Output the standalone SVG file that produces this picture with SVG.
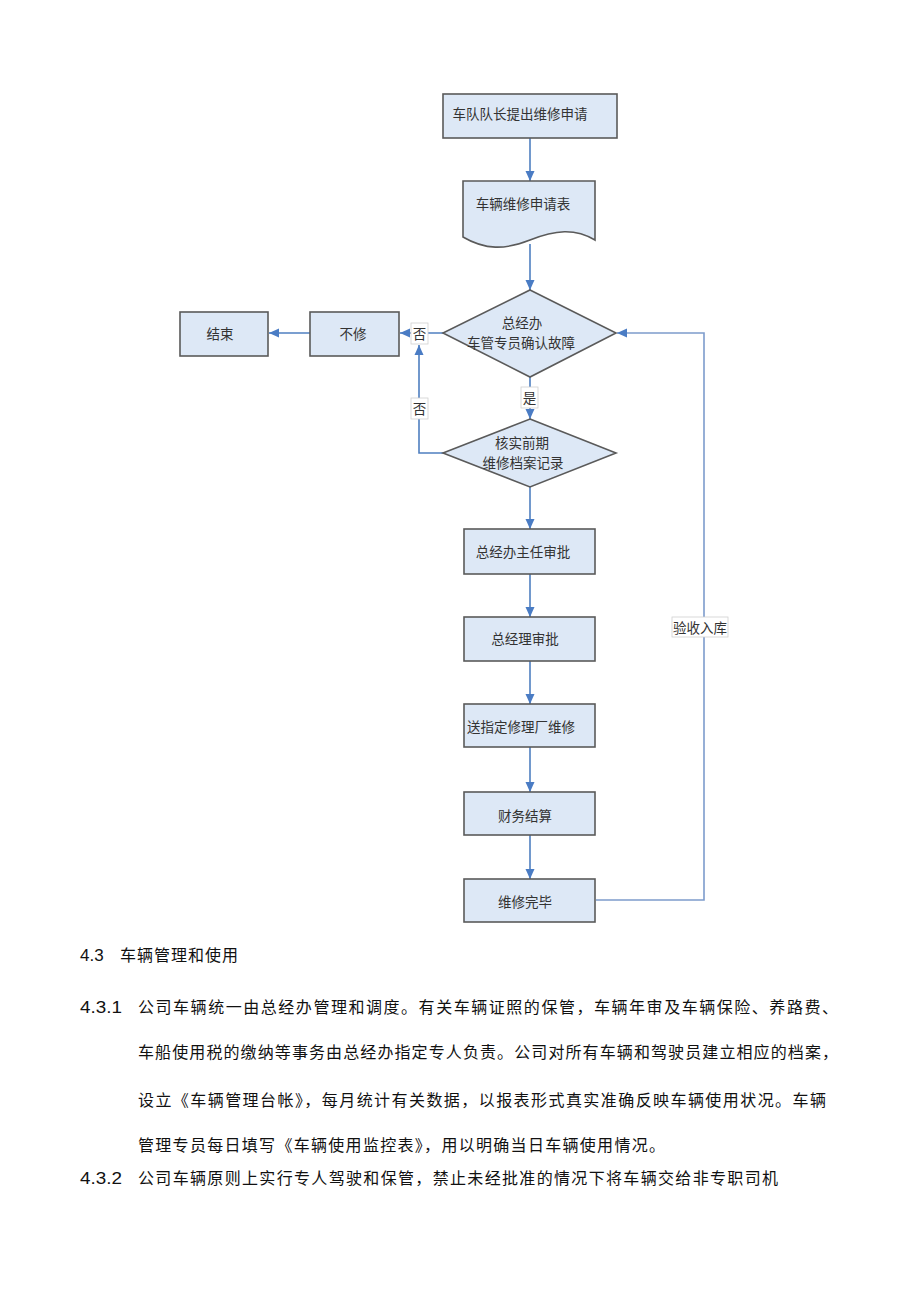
<svg xmlns="http://www.w3.org/2000/svg" width="920" height="1303" viewBox="0 0 920 1303">
<defs>
<marker id="ah" markerUnits="userSpaceOnUse" markerWidth="10" markerHeight="10" viewBox="0 0 10 10" refX="10" refY="5" orient="auto">
<path d="M0,0.5 L10,5 L0,9.5 Z" fill="#4a7cc4"/>
</marker>
</defs>
<style>
.box{fill:#dde8f6;stroke:#5a5a5a;stroke-width:1.6}
.t{font-family:"Noto Sans CJK SC","Liberation Serif",serif;font-size:13.5px;fill:#333;text-anchor:middle;dominant-baseline:central}
.c{fill:none;stroke:#4f7fc0;stroke-width:1.6}
.r{fill:none;stroke:#7d9ccc;stroke-width:1.6}
.lb{fill:#fff;stroke:#d0d0d0;stroke-width:0.8}
.lt{font-family:"Noto Sans CJK SC","Liberation Serif",serif;font-size:13.5px;fill:#333;text-anchor:middle;dominant-baseline:central}
.p{font-family:"Noto Sans CJK SC","Liberation Sans",sans-serif;font-size:16px;fill:#111}
.n{font-family:"Liberation Sans",Arial,sans-serif;font-size:17px;fill:#111}
</style>
<rect width="920" height="1303" fill="#fff"/>
<g id="connectors">
<line class="c" x1="530" y1="138" x2="530" y2="181" marker-end="url(#ah)"/>
<line class="c" x1="530" y1="244" x2="530" y2="290" marker-end="url(#ah)"/>
<line class="c" x1="443" y1="333" x2="400" y2="333" marker-end="url(#ah)"/>
<line class="c" x1="310" y1="333" x2="269" y2="333" marker-end="url(#ah)"/>
<line class="c" x1="530" y1="377" x2="530" y2="419" marker-end="url(#ah)"/>
<polyline class="c" points="443,453 419,453 419,345" marker-end="url(#ah)"/>
<line class="c" x1="530" y1="487" x2="530" y2="529" marker-end="url(#ah)"/>
<line class="c" x1="530" y1="574" x2="530" y2="617" marker-end="url(#ah)"/>
<line class="c" x1="530" y1="661" x2="530" y2="704" marker-end="url(#ah)"/>
<line class="c" x1="530" y1="747" x2="530" y2="792" marker-end="url(#ah)"/>
<line class="c" x1="530" y1="835" x2="530" y2="879" marker-end="url(#ah)"/>
<polyline class="r" points="596,900 704,900 704,333 617,333" marker-end="url(#ah)"/>
<rect class="lb" x="411" y="323" width="17" height="21"/>
<text class="lt" x="419.5" y="333">否</text>
<rect class="lb" x="411" y="398" width="17" height="21"/>
<text class="lt" x="419.5" y="408">否</text>
<rect class="lb" x="521" y="387" width="17" height="21"/>
<text class="lt" x="529.5" y="397">是</text>
<rect class="lb" x="672" y="617" width="56" height="20"/>
<text class="lt" x="700" y="627">验收入库</text>
</g>
<g id="n1">
<rect class="box" x="443" y="94" width="174" height="44"/>
<text class="t" x="520" y="113">车队队长提出维修申请</text>
</g>
<g id="n2">
<path class="box" d="M463,181 L595,181 L595,240 C575,228 555,230 530,240 C505,250 485,250 463,237 Z"/>
<text class="t" x="523" y="203">车辆维修申请表</text>
</g>
<g id="n3">
<polygon class="box" points="530,290 616,333 530,377 443,333"/>
<text class="t" x="522" y="322">总经办</text>
<text class="t" x="521" y="342">车管专员确认故障</text>
</g>
<g id="n4">
<rect class="box" x="310" y="312" width="89" height="44"/>
<text class="t" x="353" y="333">不修</text>
</g>
<g id="n5">
<rect class="box" x="180" y="312" width="88" height="44"/>
<text class="t" x="220" y="333">结束</text>
</g>
<g id="n6">
<polygon class="box" points="530,419 616,453 530,487 443,453"/>
<text class="t" x="522" y="442">核实前期</text>
<text class="t" x="523" y="462">维修档案记录</text>
</g>
<g id="n7">
<rect class="box" x="464" y="529" width="131" height="45"/>
<text class="t" x="523" y="551">总经办主任审批</text>
</g>
<g id="n8">
<rect class="box" x="464" y="617" width="131" height="44"/>
<text class="t" x="525" y="638">总经理审批</text>
</g>
<g id="n9">
<rect class="box" x="464" y="704" width="131" height="43"/>
<text class="t" x="521" y="726">送指定修理厂维修</text>
</g>
<g id="n10">
<rect class="box" x="464" y="792" width="131" height="43"/>
<text class="t" x="525" y="815">财务结算</text>
</g>
<g id="n11">
<rect class="box" x="464" y="879" width="131" height="43"/>
<text class="t" x="525" y="901">维修完毕</text>
</g>
<g id="body">
<text class="n" x="80" y="961">4.3</text>
<text class="p" x="120" y="961" textLength="118" lengthAdjust="spacing">车辆管理和使用</text>
<text class="n" x="80" y="1013" textLength="42" lengthAdjust="spacingAndGlyphs">4.3.1</text>
<text class="p" x="138" y="1013" textLength="700" lengthAdjust="spacing">公司车辆统一由总经办管理和调度。有关车辆证照的保管，车辆年审及车辆保险、养路费、</text>
<text class="p" x="138" y="1058" textLength="700" lengthAdjust="spacing">车船使用税的缴纳等事务由总经办指定专人负责。公司对所有车辆和驾驶员建立相应的档案，</text>
<text class="p" x="138" y="1106" textLength="688" lengthAdjust="spacing">设立《车辆管理台帐》，每月统计有关数据，以报表形式真实准确反映车辆使用状况。车辆</text>
<text class="p" x="138" y="1151" textLength="527" lengthAdjust="spacing">管理专员每日填写《车辆使用监控表》，用以明确当日车辆使用情况。</text>
<text class="n" x="80" y="1184" textLength="42" lengthAdjust="spacingAndGlyphs">4.3.2</text>
<text class="p" x="138" y="1184" textLength="640" lengthAdjust="spacing">公司车辆原则上实行专人驾驶和保管，禁止未经批准的情况下将车辆交给非专职司机</text>
</g>
</svg>
